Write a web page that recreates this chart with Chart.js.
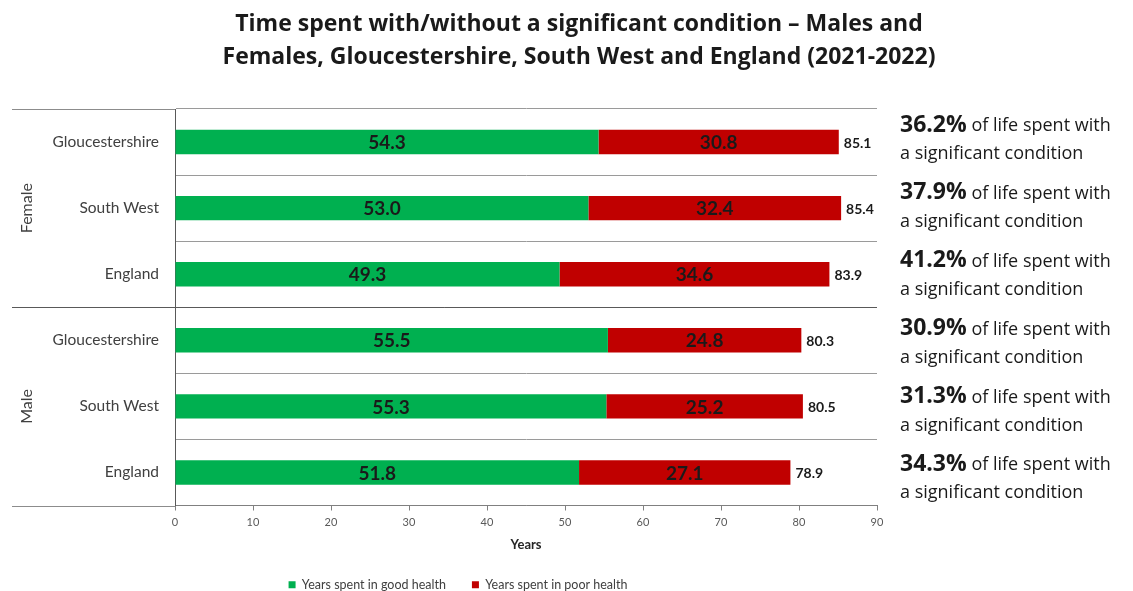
<!DOCTYPE html>
<html>
<head>
<meta charset="utf-8">
<script src="https://cdn.jsdelivr.net/npm/chart.js@4.4.1/dist/chart.umd.min.js"></script>
<style>
  html, body { margin:0; padding:0; background:#fff; }
  #wrap { width:1133px; height:591px; position:relative; }
</style>
</head>
<body>
<div id="wrap"><canvas id="chart"></canvas></div>
<script>
// ===============================
// Datos
// ===============================
const titleLines = [
  "Time spent with/without a significant condition \u2013 Males and",
  "Females, Gloucestershire, South West and England (2021-2022)"
];
const areas      = ["Gloucestershire", "South West", "England", "Gloucestershire", "South West", "England"];
const sexGroups  = ["Female", "Male"];          // 3 filas cada uno
const goodHealth = [54.3, 53.0, 49.3, 55.5, 55.3, 51.8];
const poorHealth = [30.8, 32.4, 34.6, 24.8, 25.2, 27.1];
const totals     = [85.1, 85.4, 83.9, 80.3, 80.5, 78.9];
const pctLife    = ["36.2%", "37.9%", "41.2%", "30.9%", "31.3%", "34.3%"];
const xMin = 0, xMax = 90, xStep = 10;

const GREEN = "#00b050", RED = "#c00000";
const LEFT_EDGE = 12;   // inicio de las líneas de grupo

// ===============================
// Plugin: título, líneas de grupo, etiquetas y notas
// ===============================
const extras = {
  id: "extras",
  afterDatasetsDraw(chart) {
    const { ctx, chartArea: ca, scales: { x, y } } = chart;
    ctx.save();

    // Título
    ctx.fillStyle = "#1a1a1a";
    ctx.font = "bold 23px 'Open Sans'";
    ctx.textAlign = "center"; ctx.textBaseline = "middle";
    titleLines.forEach((t, i) => ctx.fillText(t, 579, 24 + i * 33));

    // Líneas horizontales extendidas (arriba, separación de grupos, abajo)
    const rowH = (y.getPixelForValue(1) - y.getPixelForValue(0));
    const gy = Math.round(ca.top + rowH * 3) + 0.5;
    ctx.strokeStyle = "#8c8c8c"; ctx.lineWidth = 1;
    [ca.top, ca.bottom].forEach(py => {
      ctx.beginPath();
      ctx.moveTo(LEFT_EDGE, Math.round(py) + 0.5);
      ctx.lineTo(ca.left, Math.round(py) + 0.5);
      ctx.stroke();
    });
    ctx.strokeStyle = "#595959";
    ctx.beginPath();
    ctx.moveTo(LEFT_EDGE, gy);
    ctx.lineTo(ca.right, gy);
    ctx.stroke();

    // Female / Male (rotados)
    ctx.fillStyle = "#404040";
    ctx.font = "16px Lato";
    sexGroups.forEach((s, g) => {
      const cy = ca.top + rowH * (g * 3 + 1.5);
      ctx.save();
      ctx.translate(27, cy);
      ctx.rotate(-Math.PI / 2);
      ctx.textAlign = "center"; ctx.textBaseline = "middle";
      ctx.fillText(s, 0, 0);
      ctx.restore();
    });

    // Valores dentro de las barras
    ctx.fillStyle = "#1a1a1a";
    ctx.font = "bold 19px Lato";
    ctx.textAlign = "center"; ctx.textBaseline = "middle";
    [0, 1].forEach(d => {
      chart.getDatasetMeta(d).data.forEach((bar, i) => {
        const v = chart.data.datasets[d].data[i];
        ctx.fillText(v.toFixed(1), (bar.x + bar.base) / 2, bar.y + 1);
      });
    });

    // Totales
    ctx.font = "bold 14px Lato";
    ctx.textAlign = "left";
    totals.forEach((t, i) => {
      ctx.fillText(t.toFixed(1), x.getPixelForValue(t) + 5, y.getPixelForValue(i) + 1);
    });

    // Notas a la derecha
    ctx.fillStyle = "#1a1a1a";
    ctx.textBaseline = "middle";
    const noteStep = (ca.bottom - ca.top) / 6 * 1.027;
    pctLife.forEach((p, i) => {
      const cy = ca.top + 16 + i * noteStep;
      const x0 = 900;
      ctx.font = "bold 23px 'Open Sans'";
      ctx.fillText(p, x0, cy);
      const w = ctx.measureText(p).width;
      ctx.font = "18px 'Open Sans'";
      ctx.fillText(" of life spent with", x0 + w, cy + 1);
      ctx.fillText("a significant condition", x0, cy + 29);
    });

    ctx.restore();
  }
};

// ===============================
// Gráfico
// ===============================
new Chart(document.getElementById("chart"), {
  type: "bar",
  data: {
    labels: areas,
    datasets: [
      { label: "Years spent in good health", data: goodHealth, backgroundColor: GREEN,
        categoryPercentage: 1, barPercentage: 0.37 },
      { label: "Years spent in poor health", data: poorHealth, backgroundColor: RED,
        categoryPercentage: 1, barPercentage: 0.37 }
    ]
  },
  options: {
    indexAxis: "y",
    responsive: true,
    maintainAspectRatio: false,
    animation: false,
    layout: { padding: { left: 39, right: 256, top: 109, bottom: -10 } },
    scales: {
      x: {
        stacked: true, min: xMin, max: xMax,
        ticks: { stepSize: xStep, color: "#595959", font: { family: "Lato", size: 11 }, padding: 5 },
        grid: { drawOnChartArea: false, drawTicks: true, tickLength: 5, color: "#808080" },
        border: { color: "#808080" },
        title: { display: true, text: "Years", color: "#262626",
                 font: { family: "Lato", size: 13, weight: "bold" }, padding: { top: 4, bottom: 0 } },
        afterFit: s => { s.height = 47; }
      },
      y: {
        stacked: true,
        ticks: { color: "#404040", font: { family: "Lato", size: 15.5 }, padding: 16 },
        grid: { color: "#9a9a9a", drawTicks: false, offset: true },
        border: { color: "#595959" },
        afterFit: s => { s.width = 136; }
      }
    },
    plugins: {
      legend: {
        position: "bottom",
        labels: { boxWidth: 7, boxHeight: 7, padding: 26, color: "#404040",
                  font: { family: "Lato", size: 12.5 } }
      },
      tooltip: { enabled: false },
      title: { display: false }
    }
  },
  plugins: [extras]
});
</script>
</body>
</html>
